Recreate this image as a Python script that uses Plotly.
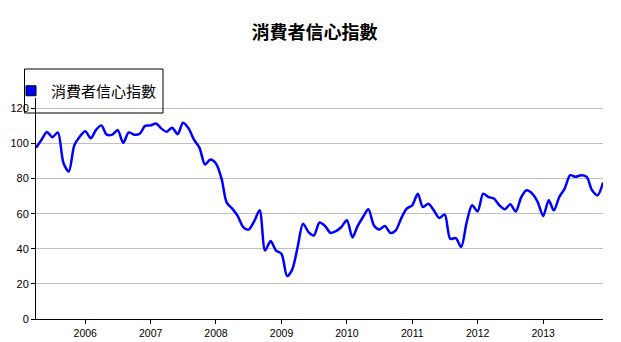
import plotly.graph_objects as go
import pandas as pd

title_text = "消費者信心指數"
series_name = "消費者信心指數"
start_month = "2005-04-01"
end_month = "2013-12-01"

values = [
    97.5, 102, 106.5, 103.6, 106.3, 89, 84, 99, 103.8, 107,
    102.9, 107.6, 110.3, 105, 105, 107.6, 100.4, 106.3, 105, 105.5,
    110, 110.3, 111.4, 108.6, 106.7, 109, 105.3, 111.8, 108.6, 102,
    97.5, 88, 90.9, 88.6, 80, 66.3, 62.9, 58.7, 52.4, 50.9,
    55.6, 61.9, 39, 44.4, 39, 37.1, 24.5, 28, 41, 54.3,
    49.5, 47.6, 55, 53, 49.1, 50, 52.4, 56.2, 46.5, 52.8,
    58.1, 62.5, 53.3, 51, 53, 49, 50.5, 57.5, 62.9, 64.8,
    71.4, 63.8, 65.7, 61.9, 57.5, 59.6, 45.7, 46.1, 41, 55.2,
    64.8, 61.3, 71.4, 69.5, 68.6, 64.8, 62.5, 65.3, 61.3, 69.5,
    73.3, 71.4, 66.7, 58.7, 67.6, 61.9, 69.5, 74.3, 81.9, 81,
    81.9, 81, 73.3, 70.5, 77.7,
]
months = pd.date_range(start_month, end_month, freq="MS")

year_ticks = [f"{y}-01-01" for y in range(2006, 2014)]
year_labels = [str(y) for y in range(2006, 2014)]
y_ticks = [0, 20, 40, 60, 80, 100, 120]

font_family = "Liberation Sans, Arial, Noto Sans CJK TC, sans-serif"

fig = go.Figure()
fig.add_trace(go.Scatter(
    x=months, y=values, mode="lines",
    line=dict(color="#0000ff", width=2.5, shape="spline", smoothing=0.8),
    showlegend=False, name=series_name,
))
fig.add_trace(go.Scatter(
    x=[None], y=[None], mode="markers", name=series_name,
    marker=dict(symbol="square", size=10, color="#0000ff",
                line=dict(color="#000000", width=1)),
    showlegend=True,
))

# page body has an 8px margin; figure coordinates = page coordinates - 8
OFF = 8
W, H = 621 - OFF, 342 - OFF
plot_left, plot_right, plot_top, plot_bottom = 36, 603, 98, 319
L = plot_left - OFF
R = W - (plot_right - OFF)
T = plot_top - OFF
B = H - (plot_bottom - OFF)
pw, ph = W - L - R, H - T - B

def px(xp):
    return (xp - plot_left) / pw

def py(yp):
    return (plot_bottom - yp) / ph

fig.add_shape(type="rect", xref="paper", yref="paper",
              x0=px(24.5), x1=px(163), y0=py(113), y1=py(69),
              line=dict(color="#000000", width=1), fillcolor="rgba(0,0,0,0)")

fig.update_layout(
    width=W, height=H,
    margin=dict(l=L, r=R, t=T, b=B, autoexpand=False),
    paper_bgcolor="white", plot_bgcolor="white",
    font=dict(family=font_family, color="#000000", size=11),
    title=dict(text=f"<b>{title_text}</b>", x=0.5, xref="container",
               y=1 - 25 / H, yref="container", yanchor="middle", xanchor="center",
               font=dict(size=18, family="Noto Sans CJK TC, sans-serif", color="#000000")),
    legend=dict(xref="container", yref="container", x=3 / W, y=1 - (91 - OFF) / H,
                xanchor="left", yanchor="middle", borderwidth=0,
                bgcolor="rgba(0,0,0,0)",
                font=dict(size=15, family="Noto Sans CJK TC, sans-serif")),
    xaxis=dict(type="date", range=[months[0], months[-1]],
               tickvals=year_ticks, ticktext=year_labels,
               showgrid=False, showline=True, linecolor="#000000", linewidth=1,
               ticks="outside", ticklen=4, tickcolor="#000000",
               tickfont=dict(size=10.5), zeroline=False),
    yaxis=dict(range=[0, 125.9], tickvals=y_ticks,
               showgrid=True, gridcolor="#c0c0c0", gridwidth=1,
               showline=True, linecolor="#000000", linewidth=1,
               ticks="outside", ticklen=4, tickcolor="#000000",
               tickfont=dict(size=11), zeroline=False),
)

fig.write_html("out.html")
